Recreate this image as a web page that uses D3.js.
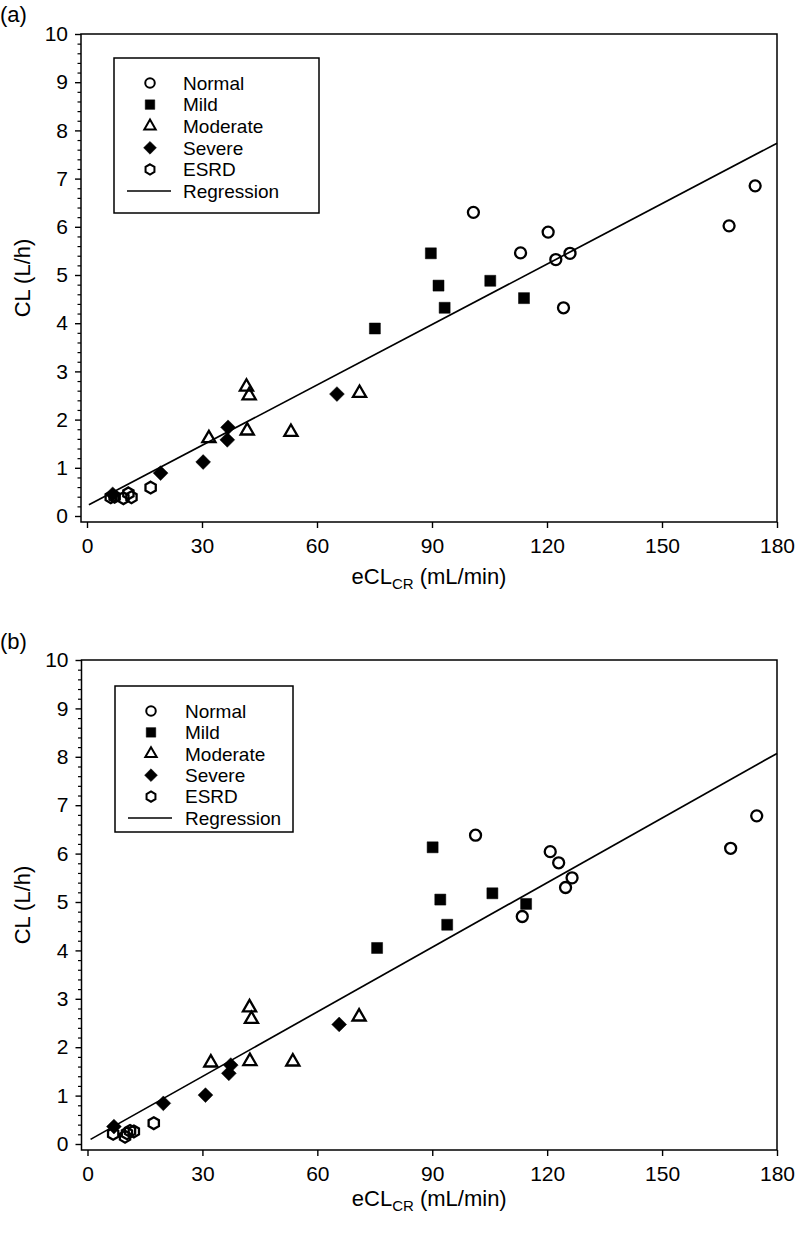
<!DOCTYPE html>
<html><head><meta charset="utf-8">
<script src="https://cdn.jsdelivr.net/npm/d3@7"></script>
<style>
body{margin:0;background:#fff}
svg{display:block}
text{font-family:"Liberation Sans",Arial,Helvetica,sans-serif;fill:#000}
</style>
</head><body>
<svg id="chart" width="800" height="1240"></svg>
<script>
// ---------- data ----------
const groups = ["Normal", "Mild", "Moderate", "Severe", "ESRD"];
const xTicks = [0, 30, 60, 90, 120, 150, 180];
const yTicks = [0, 1, 2, 3, 4, 5, 6, 7, 8, 9, 10];
const xLabel = "eCL";
const xLabelSub = "CR";
const xLabelTail = " (mL/min)";
const yLabel = "CL (L/h)";

// panel (a): [eCLcr, CL]
const normalA   = [[100.8,6.30],[113.1,5.46],[120.3,5.89],[122.3,5.32],[126.0,5.45],[124.3,4.32],[167.5,6.02],[174.3,6.85]];
const mildA     = [[75.1,3.89],[89.7,5.45],[91.7,4.78],[93.3,4.32],[105.2,4.88],[114.0,4.52]];
const moderateA = [[31.8,1.61],[41.6,2.68],[42.3,2.50],[41.8,1.77],[53.2,1.74],[71.1,2.55]];
const severeA   = [[6.7,0.45],[19.2,0.89],[30.3,1.12],[36.6,1.58],[36.8,1.84],[65.2,2.53]];
const esrdA     = [[6.2,0.39],[7.2,0.40],[9.5,0.37],[10.8,0.47],[11.6,0.39],[16.6,0.59]];
const regressionA = [0.21, 0.0418];   // intercept, slope
const regRangeA = [0.5, 180];

// panel (b)
const normalB   = [[101.3,6.38],[113.5,4.70],[120.8,6.04],[123.0,5.81],[124.8,5.30],[126.5,5.50],[167.9,6.11],[174.7,6.78]];
const mildB     = [[75.6,4.05],[90.1,6.13],[92.1,5.05],[93.9,4.53],[105.7,5.18],[114.5,4.96]];
const moderateB = [[32.2,1.68],[42.3,2.82],[42.8,2.58],[42.4,1.71],[53.6,1.70],[70.9,2.63]];
const severeB   = [[6.9,0.36],[19.8,0.84],[30.8,1.01],[36.9,1.46],[37.4,1.63],[65.7,2.47]];
const esrdB     = [[6.7,0.21],[9.8,0.15],[10.3,0.22],[11.1,0.27],[12.1,0.26],[17.3,0.43]];
const regressionB = [0.06, 0.0445];
const regRangeB = [0.8, 180];

// ---------- symbols ----------
const diamondType = { draw(ctx, size) { const r = Math.sqrt(size) / Math.SQRT2;
  ctx.moveTo(0,-r); ctx.lineTo(r,0); ctx.lineTo(0,r); ctx.lineTo(-r,0); ctx.closePath(); } };
const hexType = { draw(ctx, size) { const r = Math.sqrt(size) / 1.6;
  for (let i = 0; i < 6; i++) { const a = -Math.PI/2 + i*Math.PI/3;
    const px = r*Math.cos(a), py = r*Math.sin(a); if (i===0) ctx.moveTo(px,py); else ctx.lineTo(px,py); }
  ctx.closePath(); } };
const markerStyle = {
  Normal:   {type: d3.symbolCircle,   size: 95,  fill: "none"},
  Mild:     {type: d3.symbolSquare,   size: 121, fill: "#000"},
  Moderate: {type: d3.symbolTriangle, size: 75,  fill: "none"},
  Severe:   {type: diamondType,       size: 110, fill: "#000"},
  ESRD:     {type: hexType,           size: 90,  fill: "none"}
};

const svg = d3.select("#chart");

function drawPanel(p) {
  const g = svg.append("g");
  const x = d3.scaleLinear().domain([0, 180]).range([p.x0, p.x1]);
  const y = d3.scaleLinear().domain([0, 10]).range([p.y0, p.y1]);
  const left = p.x0 - 6, bottom = p.y0 + 6, top = y(10), right = x(180);

  // panel label
  g.append("text").attr("x", 0).attr("y", p.labelY).attr("font-size", 22).text(p.label);

  // y axis major
  const ya = g.append("g").attr("transform", `translate(${left},0)`)
    .call(d3.axisLeft(y).tickValues(yTicks).tickSize(6).tickSizeOuter(0).tickPadding(7).tickFormat(d3.format("d")));
  ya.select(".domain").remove();
  ya.selectAll("text").attr("font-size", 21).attr("font-family", '"Liberation Sans",Arial,sans-serif');
  ya.selectAll("line").attr("stroke-width", 1.4);
  // y minor
  const minor = d3.range(0, 10.001, 0.2).filter(v => Math.abs(v - Math.round(v)) > 1e-6);
  const ym = g.append("g").attr("transform", `translate(${left},0)`)
    .call(d3.axisLeft(y).tickValues(minor).tickSize(3.5).tickSizeOuter(0).tickFormat(""));
  ym.select(".domain").remove();
  ym.selectAll("line").attr("stroke-width", 1.2);

  // x axis
  const xa = g.append("g").attr("transform", `translate(0,${bottom})`)
    .call(d3.axisBottom(x).tickValues(xTicks).tickSize(6).tickSizeOuter(0).tickPadding(10).tickFormat(d3.format("d")));
  xa.select(".domain").remove();
  xa.selectAll("text").attr("font-size", 21).attr("font-family", '"Liberation Sans",Arial,sans-serif');
  xa.selectAll("line").attr("stroke-width", 1.4);

  // frame
  g.append("path").attr("fill", "none").attr("stroke", "#000").attr("stroke-width", 1.5)
    .attr("d", `M${left},${top}H${right}V${bottom}H${left}Z`);

  // axis titles
  g.append("text").attr("transform", `translate(${p.yTitleX},${(top+bottom)/2}) rotate(-90)`)
    .attr("text-anchor", "middle").attr("font-size", 22).text(yLabel);
  const xt = g.append("text").attr("x", (left + right)/2).attr("y", p.xTitleY)
    .attr("text-anchor", "middle").attr("font-size", 22);
  xt.append("tspan").text(xLabel);
  xt.append("tspan").attr("font-size", 15).attr("dy", 5).text(xLabelSub);
  xt.append("tspan").attr("dy", -5).text(xLabelTail);

  // regression
  const line = d3.line().x(d => x(d)).y(d => y(p.reg[0] + p.reg[1]*d));
  g.append("path").attr("fill", "none").attr("stroke", "#000").attr("stroke-width", 1.7)
    .attr("d", line(p.regRange));

  // points
  groups.forEach((name, i) => {
    const st = markerStyle[name];
    const sym = d3.symbol().type(st.type).size(st.size);
    g.append("g").selectAll("path").data(p.series[i]).join("path")
      .attr("transform", d => `translate(${x(d[0])},${y(d[1])})`)
      .attr("d", sym)
      .attr("fill", st.fill === "none" ? "none" : st.fill)
      .attr("stroke", "#000").attr("stroke-width", st.fill === "none" ? 2.3 : 0.5);
  });

  // legend
  const L = p.legend;
  g.append("rect").attr("x", L.x).attr("y", L.y).attr("width", L.w).attr("height", L.h)
    .attr("fill", "#fff").attr("stroke", "#000").attr("stroke-width", 1.5);
  groups.forEach((name, i) => {
    const st = markerStyle[name];
    const cy = L.firstRow + i*L.step;
    g.append("path").attr("transform", `translate(${L.symX},${cy})`)
      .attr("d", d3.symbol().type(st.type).size(st.size*0.75))
      .attr("fill", st.fill === "none" ? "none" : st.fill)
      .attr("stroke", "#000").attr("stroke-width", st.fill === "none" ? 2 : 0.5);
    g.append("text").attr("x", L.textX).attr("y", cy).attr("dy", "0.36em")
      .attr("font-size", 19).text(name);
  });
  const ry = L.firstRow + 5*L.step;
  g.append("line").attr("x1", L.symX - 23).attr("x2", L.symX + 21).attr("y1", ry).attr("y2", ry)
    .attr("stroke", "#000").attr("stroke-width", 1.7);
  g.append("text").attr("x", L.textX).attr("y", ry).attr("dy", "0.36em")
    .attr("font-size", 19).text("Regression");
}

drawPanel({
  label: "(a)", labelY: 22,
  x0: 87, x1: 777, y0: 516, y1: 34,
  yTitleX: 30, xTitleY: 584,
  reg: regressionA, regRange: regRangeA,
  series: [normalA, mildA, moderateA, severeA, esrdA],
  legend: {x: 114, y: 58, w: 205, h: 155, firstRow: 83, step: 21.6, symX: 150, textX: 183}
});
drawPanel({
  label: "(b)", labelY: 649,
  x0: 87.5, x1: 777, y0: 1144, y1: 660,
  yTitleX: 30, xTitleY: 1206,
  reg: regressionB, regRange: regRangeB,
  series: [normalB, mildB, moderateB, severeB, esrdB],
  legend: {x: 115, y: 686, w: 178, h: 146, firstRow: 711, step: 21.4, symX: 151, textX: 185}
});
</script>
</body></html>
